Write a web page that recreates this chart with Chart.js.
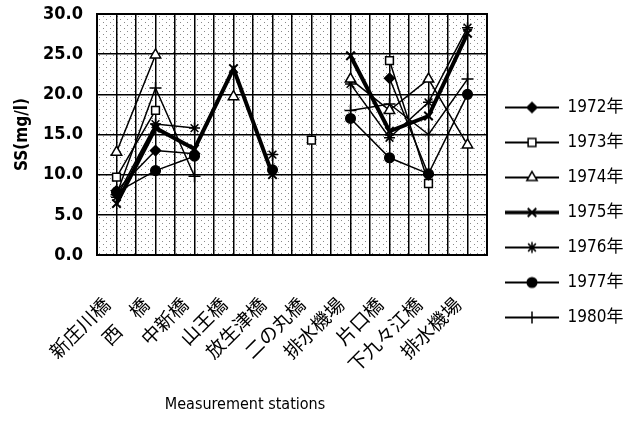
<!doctype html>
<html lang="ja">
<head>
<meta charset="utf-8">
<title>SS</title>
<script src="https://cdn.jsdelivr.net/npm/chart.js"></script>
<style>
  html, body { margin: 0; padding: 0; background: #fff; }
</style>
</head>
<body>
<div style="width:636px;height:421px;position:relative;">
  <canvas id="chart"></canvas>
</div>
<script>
const stations = ['新庄川橋', '西　橋', '中新橋', '山王橋', '放生津橋', '二の丸橋', '排水機場', '片口橋', '下九々江橋', '排水機場']
const years = ['1972年', '1973年', '1974年', '1975年', '1976年', '1977年', '1980年']
const ss1972 = [8.0, 13.0, 12.6, null, null, null, null, 22.0, 10.0, null]
const ss1973 = [9.7, 18.0, null, null, null, 14.3, null, 24.2, 8.9, null]
const ss1974 = [12.8, 24.9, null, 19.7, null, null, 21.9, 18.0, 21.9, 13.7]
const ss1975 = [6.4, 15.8, 13.2, 23.2, 10.0, null, 24.8, 15.4, 17.3, 27.6]
const ss1976 = [7.2, 16.3, 15.8, null, 12.5, null, 21.3, 14.6, 19.0, 28.3]
const ss1977 = [7.8, 10.5, 12.3, null, 10.6, null, 17.0, 12.1, 10.1, 20.0]
const ss1980 = [7.5, 20.8, 9.8, null, null, null, 18.0, 18.8, 15.0, 21.9]
const yTicks = [0, 5, 10, 15, 20, 25, 30]

const narrow = '"DejaVu Sans Condensed", "Noto Sans CJK JP", sans-serif'
const cjk = '"Noto Sans CJK JP", sans-serif'

// marker look per series: [pointStyle, radius, fill, line width]
const looks = [
  ['rectRot', 5, '#000', 1.5],
  ['rect', 5.5, '#fff', 1.5],
  ['triangle', 6, '#fff', 1.5],
  ['crossRot', 6, '#000', 4],
  ['star', 5.5, '#000', 1.5],
  ['circle', 4.8, '#000', 1.5],
  ['cross', 6, '#000', 1.5]
]
const series = [ss1972, ss1973, ss1974, ss1975, ss1976, ss1977, ss1980]

const datasets = series.map((data, i) => {
  const [style, r, fill, lw] = looks[i]
  return {
    label: years[i],
    data,
    borderColor: '#000',
    borderWidth: lw,
    pointStyle: style,
    pointRadius: r,
    pointBorderColor: '#000',
    pointBackgroundColor: fill,
    pointBorderWidth: i === 3 ? 2 : 1.5,
    spanGaps: false,
    tension: 0
  }
})

// legend icon: short line with the marker in the middle
function legendIcon(i) {
  const [style, r, fill, lw] = looks[i]
  const c = document.createElement('canvas')
  c.width = 54
  c.height = 16
  const g = c.getContext('2d')
  g.strokeStyle = '#000'
  g.lineWidth = lw === 4 ? 3.5 : 2
  g.beginPath()
  g.moveTo(0, 8)
  g.lineTo(54, 8)
  g.stroke()
  g.fillStyle = fill
  g.lineWidth = i === 3 ? 2 : 1.5
  Chart.helpers.drawPoint(g, { pointStyle: style, radius: r, borderWidth: g.lineWidth, rotation: 0 }, 27, 8)
  return c
}

// stippled background of the plot
function stipple() {
  const c = document.createElement('canvas')
  c.width = 7
  c.height = 6
  const g = c.getContext('2d')
  g.fillStyle = '#fff'
  g.fillRect(0, 0, 7, 6)
  g.fillStyle = '#8a8a8a'
  g.fillRect(1, 1, 1, 1)
  g.fillRect(5, 4, 1, 1)
  return c
}

const plotBack = {
  id: 'plotBack',
  beforeDraw(chart) {
    const { ctx, chartArea: a } = chart
    ctx.save()
    ctx.fillStyle = ctx.createPattern(stipple(), 'repeat')
    ctx.fillRect(a.left, a.top, a.right - a.left, a.bottom - a.top)
    ctx.restore()
  },
  afterDraw(chart) {
    const { ctx, chartArea: a } = chart
    ctx.save()
    ctx.strokeStyle = '#000'
    ctx.lineWidth = 2
    ctx.strokeRect(a.left, a.top, a.right - a.left, a.bottom - a.top)
    ctx.fillStyle = '#000'
    ctx.font = '16px ' + narrow
    ctx.textAlign = 'center'
    ctx.textBaseline = 'middle'
    ctx.fillText('Measurement stations', 245, 405)
    ctx.restore()
  }
}

new Chart(document.getElementById('chart'), {
  type: 'line',
  data: { labels: stations, datasets },
  plugins: [plotBack],
  options: {
    responsive: true,
    maintainAspectRatio: false,
    animation: false,
    layout: { padding: { top: 14, left: 0, right: 3, bottom: 10 } },
    plugins: {
      tooltip: { enabled: false },
      legend: {
        position: 'right',
        maxWidth: 146,
        labels: {
          usePointStyle: true,
          pointStyleWidth: 54,
          padding: 18,
          color: '#000',
          font: { family: narrow, size: 17 },
          generateLabels: (chart) => chart.data.datasets.map((ds, i) => ({
            text: ds.label,
            pointStyle: legendIcon(i),
            fillStyle: '#000',
            strokeStyle: '#000',
            lineWidth: 0,
            hidden: false,
            datasetIndex: i
          }))
        }
      }
    },
    scales: {
      x: {
        type: 'category',
        offset: true,
        grid: { offset: true, color: '#000', lineWidth: 1.5, drawTicks: false },
        border: { display: false },
        ticks: {
          autoSkip: false,
          maxRotation: 45,
          minRotation: 45,
          padding: 38,
          labelOffset: -10,
          color: '#000',
          font: { family: cjk, size: 19 }
        },
        afterFit(scale) {
          scale.height = 156
          scale.paddingLeft = 0
          scale.paddingRight = 0
        }
      },
      x2: {
        type: 'category',
        position: 'bottom',
        labels: stations,
        offset: true,
        grid: { offset: false, color: '#000', lineWidth: 1.5, drawTicks: false },
        border: { display: false },
        ticks: { display: false },
        afterFit(scale) { scale.height = 0 }
      },
      y: {
        min: 0,
        max: 30,
        afterBuildTicks(scale) { scale.ticks = yTicks.map(v => ({ value: v })) },
        grid: { color: '#000', lineWidth: 1.5, drawTicks: false },
        border: { display: false },
        ticks: {
          padding: 14,
          color: '#000',
          font: { family: narrow, size: 18, weight: 'bold' },
          callback: (v) => Number(v).toFixed(1)
        },
        title: {
          display: true,
          text: 'SS(mg/l)',
          color: '#000',
          padding: { top: 12, bottom: 0 },
          font: { family: narrow, size: 17, weight: 'bold' }
        },
        afterFit(scale) {
          scale.width = 97
          scale.paddingTop = 0
          scale.paddingBottom = 0
        }
      }
    }
  }
})
</script>
</body>
</html>
